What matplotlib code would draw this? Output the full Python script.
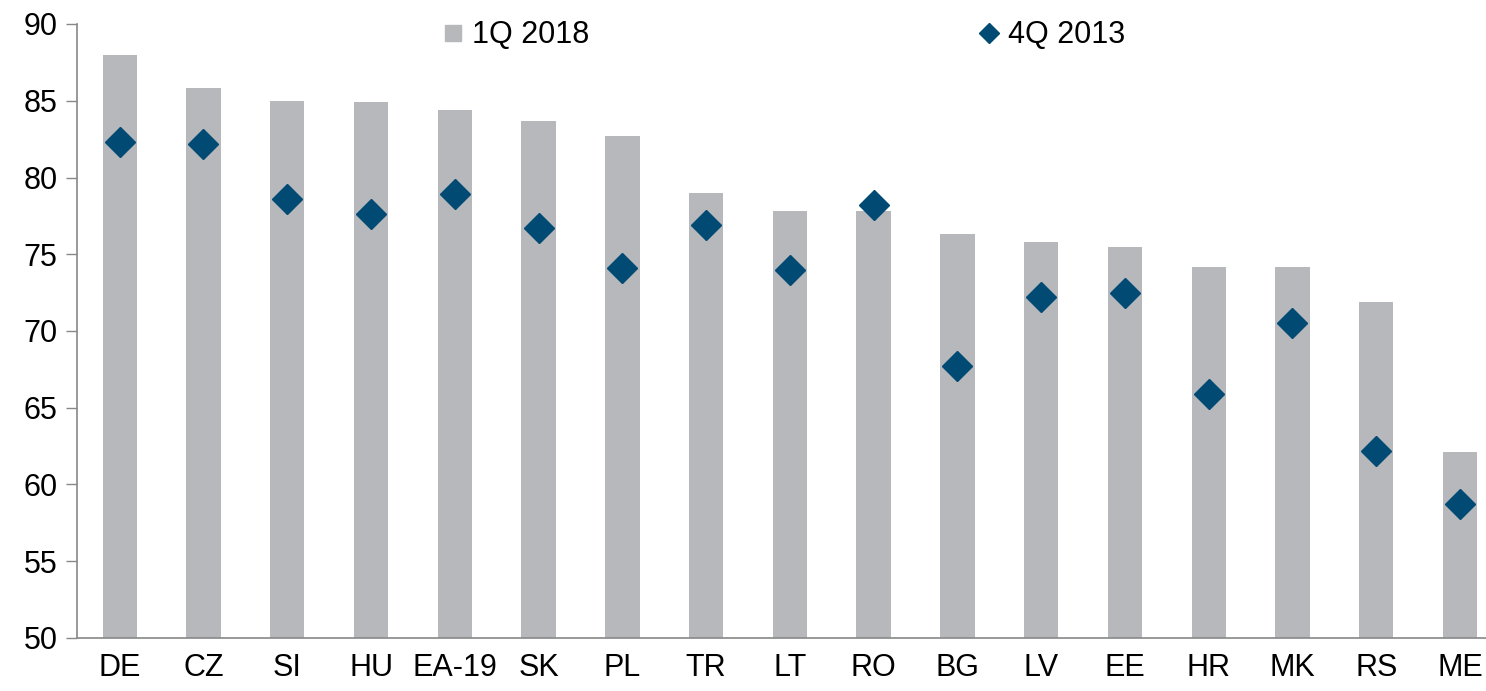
import matplotlib
matplotlib.use("Agg")
import matplotlib.pyplot as plt
from matplotlib.lines import Line2D

plt.rcParams['font.family'] = ['Liberation Sans', 'DejaVu Sans']

categories = ["DE", "CZ", "SI", "HU", "EA-19", "SK", "PL", "TR", "LT", "RO",
              "BG", "LV", "EE", "HR", "MK", "RS", "ME"]
q1_2018 = [88.0, 85.8, 85.0, 84.9, 84.4, 83.7, 82.7, 79.0, 77.8, 77.8,
           76.3, 75.8, 75.5, 74.2, 74.2, 71.9, 62.1]
q4_2013 = [82.3, 82.2, 78.6, 77.6, 78.9, 76.7, 74.1, 76.9, 74.0, 78.2,
           67.7, 72.2, 72.5, 65.9, 70.5, 62.2, 58.7]
yticks = [50, 55, 60, 65, 70, 75, 80, 85, 90]

bar_color = "#b7b8bc"
dia_color = "#004a73"

fig = plt.figure(figsize=(14.86, 6.91), dpi=100)
ax = fig.add_axes([77/1486, 53/691, 1 - 77/1486, (638-24)/691])

x = list(range(len(categories)))
ax.bar(x, [v - 50 for v in q1_2018], bottom=50, width=0.41, color=bar_color,
       zorder=2)
ax.plot(x, q4_2013, linestyle='none', marker='D', markersize=15.5,
        color=dia_color, zorder=3)

ax.set_ylim(50, 90)
ax.set_xlim(-0.51, 16.31)
ax.set_yticks(yticks)
ax.set_yticklabels([str(t) for t in yticks], fontsize=22)
ax.set_xticks(x)
ax.set_xticklabels(categories, fontsize=22)
ax.tick_params(axis='x', length=0, pad=11)
ax.tick_params(axis='y', length=8, width=1, color='#888888', pad=6)
for s in ['top', 'right']:
    ax.spines[s].set_visible(False)
for s in ['left', 'bottom']:
    ax.spines[s].set_color('#888888')
    ax.spines[s].set_linewidth(1.2)

handles = [Line2D([], [], linestyle='none', marker='s', markersize=12,
                  color=bar_color),
           Line2D([], [], linestyle='none', marker='D', markersize=10,
                  color=dia_color)]
leg = ax.legend(handles, ["1Q 2018", "4Q 2013"], ncol=2, frameon=False,
                fontsize=22, loc='center', bbox_to_anchor=(0.528, 0.949),
                bbox_transform=fig.transFigure, borderpad=0,
                handlelength=0.6, handletextpad=0.3, columnspacing=12.8)

fig.savefig("out.png", dpi=100)
